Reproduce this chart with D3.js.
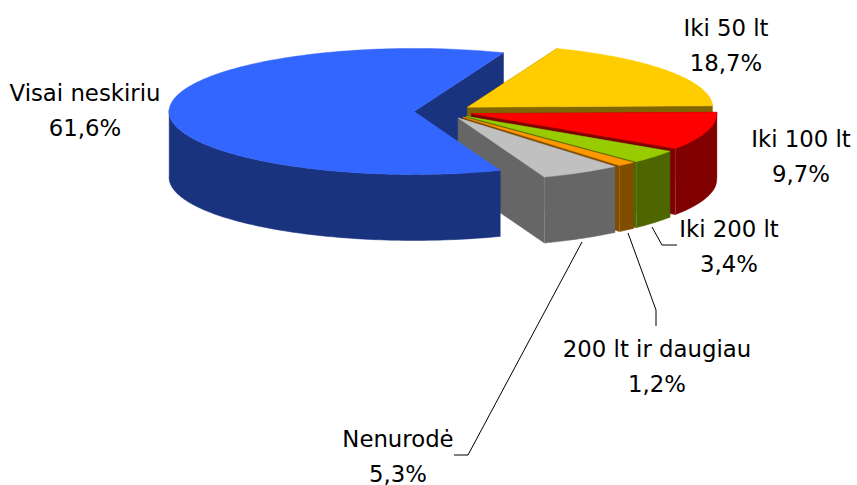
<!DOCTYPE html>
<html>
<head>
<meta charset="utf-8">
<script src="https://cdn.jsdelivr.net/npm/d3@7/dist/d3.min.js"></script>
<style>
  html, body { margin: 0; background: #fff; }
  svg { display: block; }
  text { font-family: "DejaVu Sans", sans-serif; font-size: 22.8px; fill: #000; text-anchor: middle; }
</style>
</head>
<body>
<svg id="chart" width="857" height="485"></svg>
<script>
// Survey answers, clockwise from the upper right of the pie
const categories = ["Iki 50 lt", "Iki 100 lt", "Iki 200 lt", "200 lt ir daugiau", "Nenurodė", "Visai neskiriu"];
const shares = [18.7, 9.7, 3.4, 1.2, 5.3, 61.6];
const topColors = ["#ffcc00", "#ff0000", "#99cc00", "#ff9900", "#c0c0c0", "#3366ff"];
const wallColors = ["#806600", "#800000", "#4d6600", "#804d00", "#666666", "#19337f"];

// Where each label's first line sits
const labelAnchors = [[726, 36], [801, 147], [729, 237], [657, 357], [398, 447], [85, 101]];
const lineGap = 34.5;

// Leader lines for the small slices
const leaders = [
  [[652, 227], [662, 245], [677, 245]],
  [[628, 233], [656, 310], [656, 326]],
  [[582, 242], [468, 455], [454, 455]]
];

// Tilted pie: unit circle projected onto an ellipse, with a fixed wall height
const cx = 443.5, cy = 111.5, rx = 245, ry = 63, depth = 66, explode = 0.12;
const px = d3.scaleLinear().domain([-1, 1]).range([cx - rx, cx + rx]);
const py = d3.scaleLinear().domain([-1, 1]).range([cy - ry, cy + ry]);

const firstAngle = 21.4 * Math.PI / 180;
const arcs = d3.pie().sort(null).startAngle(firstAngle).endAngle(firstAngle + 2 * Math.PI)(shares);

const svg = d3.select("#chart");
const line = d3.line();
const closed = pts => line(pts) + "Z";

function sliceGeometry(a) {
  const mid = (a.startAngle + a.endAngle) / 2;
  const ox = explode * Math.sin(mid), oy = -explode * Math.cos(mid);
  const at = (t, r) => [px(ox + r * Math.sin(t)), py(oy - r * Math.cos(t))];
  const n = Math.max(2, Math.ceil((a.endAngle - a.startAngle) / 0.02));
  const ts = d3.range(n + 1).map(i => a.startAngle + (a.endAngle - a.startAngle) * i / n);
  return { at, ts, apex: at(0, 0) };
}
const drop = ([x, y]) => [x, y + depth];

function drawWall(pts, fill) {
  if (pts.length < 2) return;
  svg.append("path").attr("d", closed(pts.concat(pts.slice().reverse().map(drop))))
    .attr("fill", fill).attr("stroke", fill).attr("stroke-width", 0.5);
}
// Only the near half of the rim shows a wall
function drawRimWall(g, fill) {
  drawWall(g.ts.filter(t => Math.cos(t) <= 0.03).map(t => g.at(t, 1)), fill);
}
function drawTop(g, fill) {
  const rim = g.ts.map(t => g.at(t, 1));
  svg.append("path").attr("d", closed([g.apex].concat(rim)))
    .attr("fill", fill).attr("stroke", fill).attr("stroke-width", 0.5);
}

const geo = arcs.map(sliceGeometry);
const big = arcs.length - 1;

// The large slice's rear cut face sits behind everything else
const bigG = geo[big];
drawWall([bigG.apex, bigG.at(arcs[big].endAngle, 1)], wallColors[big]);

// Small slices, back to front
arcs.slice(0, big).forEach((a, i) => {
  const g = geo[i];
  drawWall([g.apex, g.at(a.startAngle, 1)], wallColors[i]);
  drawWall([g.apex, g.at(a.endAngle, 1)], wallColors[i]);
  drawRimWall(g, wallColors[i]);
  drawTop(g, topColors[i]);
  // Faint seam where the flat face meets the curved one
  const corner = g.at(a.endAngle, 1);
  svg.append("line")
    .attr("x1", corner[0]).attr("x2", corner[0])
    .attr("y1", corner[1]).attr("y2", corner[1] + depth)
    .attr("stroke", "#fff").attr("stroke-opacity", 0.15).attr("stroke-width", 1);
});

// Large slice last: its outer wall and top overlap the neighbours' faces
drawRimWall(bigG, wallColors[big]);
drawTop(bigG, topColors[big]);

// Leaders
svg.selectAll("path.leader").data(leaders).join("path")
  .attr("class", "leader")
  .attr("d", line)
  .attr("fill", "none").attr("stroke", "#000").attr("stroke-width", 1);

// Labels: category on the first line, share with a decimal comma on the second
const pct = v => v.toFixed(1).replace(".", ",") + "%";
categories.forEach((c, i) => {
  const [x, y] = labelAnchors[i];
  svg.append("text").attr("x", x).attr("y", y).text(c);
  svg.append("text").attr("x", x).attr("y", y + lineGap).text(pct(shares[i]));
});
</script>
</body>
</html>
